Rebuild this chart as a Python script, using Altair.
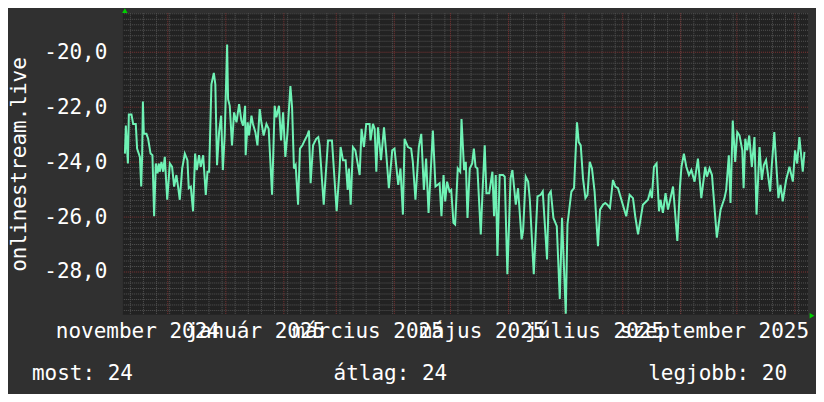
import altair as alt
import pandas as pd
import numpy as np

# ---------------- data ----------------
START = pd.Timestamp("2024-11-07T00:00:00")
END = pd.Timestamp("2025-11-08T00:00:00")

day_offset = [
    1.1, 1.6, 2.7, 3.2, 4.6, 5.5, 6.9, 7.6, 9.1, 9.8, 10.3, 10.7, 11.2, 12.6, 13.5, 14.8, 15.8, 16.7, 17.6, 18.5,
    19.2, 19.7, 20.6, 21.5, 22.4, 23.7, 25.1, 26.3, 27.4, 28.6, 29.5, 30.4, 31.7, 33.1, 34.5, 35.2, 36.3, 37.5, 38.6, 39.5,
    40.7, 41.6, 42.9, 44.3, 45.2, 46.1, 47.3, 48.6, 49.4, 50.3, 51.4, 52.5, 53.4, 54.4, 55.7, 56.2, 57.1, 58.3, 59.4, 60.7,
    62.1, 63.3, 64.2, 65.3, 65.6, 66.7, 67.4, 68.7, 69.5, 70.8, 71.9, 73.1, 74.0, 75.2, 76.7, 77.9, 79.7, 81.1, 82.0, 83.4,
    84.5, 85.6, 86.8, 87.9, 89.5, 90.4, 91.4, 92.3, 93.6, 94.6, 95.9, 97.1, 98.5, 99.4, 100.3, 101.6, 103.3, 104.4, 105.1, 107.3,
    109.6, 111.7, 114.2, 115.8, 116.3, 117.6, 119.0, 120.1, 120.8, 121.7, 122.9, 124.2, 126.5, 127.5, 128.8, 130.0, 131.8, 132.3, 133.6, 134.5,
    135.4, 136.3, 137.9, 139.5, 140.7, 142.1, 143.9, 145.1, 147.1, 148.3, 149.6, 150.5, 152.3, 154.0, 154.9, 156.3, 158.1, 159.4, 160.8, 162.0,
    163.3, 165.6, 167.0, 169.2, 170.2, 171.3, 172.2, 173.2, 174.5, 175.4, 176.6, 177.5, 178.9, 180.2,
    180.9, 182.3, 183.2, 184.1, 185.3, 186.6, 187.5, 188.4, 189.4, 191.2, 192.1, 193.3, 194.2, 195.7, 196.6, 197.4, 198.3, 199.2, 200.1, 201.3,
    203.1, 204.0, 205.4, 207.1, 208.1, 209.9, 211.1, 213.0, 213.8, 215.2, 216.5, 217.4, 219.5, 221.5, 223.2, 224.3, 226.6, 227.5, 228.6, 230.0,
    231.8, 233.4, 234.6, 236.6, 237.5, 239.6, 241.0, 242.6, 243.5, 244.6, 245.8, 247.1, 248.2, 249.4, 250.6, 252.0, 253.8, 254.9, 256.5, 257.7,
    258.8, 260.2, 261.8, 263.1, 264.5, 268.1, 268.9, 270.7, 272.5, 273.7, 275.2, 277.8, 280.5, 281.7, 282.6, 283.7, 285.1, 286.4, 287.2, 288.5,
    289.9, 291.2, 293.9, 296.2, 297.6, 298.4, 299.7, 301.0, 302.4, 303.7, 305.4, 307.2, 309.0, 311.1, 312.0, 313.4, 314.7, 317.3, 319.3, 321.4,
    322.3, 323.7, 324.6, 325.8, 327.1, 328.2, 329.4, 330.9, 331.6, 332.5, 333.5, 334.6, 336.0, 337.4, 338.5, 340.1, 341.3, 342.4, 343.6, 345.8,
    346.6, 348.0, 348.9, 350.2, 351.3, 352.5, 354.3, 356.1, 357.9, 359.1, 360.2, 361.4, 363.2, 364.1,
]

value = [
    -23.69, -22.67, -24.05, -22.27, -22.27, -22.61, -22.61, -23.51, -23.81, -24.89, -23.81, -21.79, -22.97, -22.97, -23.15, -23.69, -23.75, -25.97, -24.05, -24.41,
    -24.05, -24.35, -23.99, -24.35, -23.81, -25.37, -24.05, -24.17, -24.89, -24.47, -24.89, -25.37, -24.23, -23.69, -23.93, -24.95, -24.89, -25.79, -23.69, -24.29,
    -23.75, -24.17, -23.75, -25.19, -24.35, -24.35, -21.17, -20.75, -21.17, -24.11, -22.91, -22.31, -24.29, -23.03, -19.72, -21.71, -21.95, -23.39, -22.19, -22.55,
    -21.89, -22.49, -22.67, -21.95, -23.75, -22.55, -23.03, -22.31, -22.61, -22.91, -23.39, -22.07, -22.55, -23.03, -22.61, -22.79, -25.19, -21.95, -22.37, -21.95,
    -23.21, -22.19, -23.81, -22.97, -21.23, -22.01, -24.23, -24.11, -25.55, -23.51, -23.39, -23.21, -23.03, -22.85, -24.77, -23.39, -23.15, -23.09, -23.39, -25.55,
    -23.21, -23.21, -25.79, -24.23, -23.45, -23.93, -23.93, -25.01, -24.23, -25.55, -23.45, -23.57, -24.47, -22.79, -23.45, -22.61, -22.61, -23.21, -22.61, -22.79,
    -24.35, -22.73, -23.93, -22.73, -23.69, -24.95, -23.57, -23.51, -24.83, -24.23, -25.91, -23.15, -23.45, -23.51, -23.99, -25.37, -23.45, -22.97, -25.01, -23.87,
    -25.85, -22.85, -24.89, -24.77, -25.97, -24.47, -25.43, -24.71, -25.07, -25.01, -26.21, -26.27, -24.23, -24.35,
    -22.43, -24.29, -23.99, -26.03, -24.23, -24.05, -23.51, -24.17, -24.23, -26.63, -25.13, -23.39, -25.13, -25.13, -24.71, -24.35, -25.97, -24.47, -27.42, -24.47,
    -24.47, -24.53, -28.08, -24.59, -24.29, -25.55, -24.95, -26.81, -26.51, -24.53, -24.71, -25.37, -28.08, -25.25, -25.19, -25.07, -27.54, -25.19, -25.07, -26.03,
    -26.33, -28.98, -26.03, -29.52, -26.27, -25.07, -24.95, -22.55, -23.27, -23.39, -24.59, -25.31, -25.19, -23.99, -24.23, -25.07, -27.06, -25.73, -25.55, -25.49,
    -25.55, -25.67, -24.65, -24.89, -24.95, -25.79, -25.97, -25.19, -25.31, -25.97, -26.63, -25.55, -25.37, -25.07, -25.31, -24.17, -24.05, -25.79, -25.37, -25.85,
    -25.13, -25.73, -24.89, -26.87, -24.89, -24.17, -23.69, -24.17, -24.47, -24.29, -24.71, -23.87, -25.31, -24.17, -24.53, -24.23, -24.47, -26.75, -25.73, -25.31,
    -25.01, -23.75, -25.49, -22.49, -23.99, -22.91, -23.03, -23.57, -24.95, -23.15, -23.57, -23.03, -24.17, -23.09, -25.91, -23.45, -24.65, -24.11, -23.93, -25.07,
    -24.17, -22.91, -23.93, -25.31, -24.83, -25.43, -24.65, -24.17, -24.71, -23.57, -24.05, -23.09, -24.35, -23.63,
]

y_ticks = [-20, -22, -24, -26, -28]
y_domain = [-29.56, -18.58]

month_labels = ["november 2024", "január 2025", "március 2025", "május 2025", "július 2025", "szeptember 2025"]
month_label_dates = ["2024-11-15T00:00:00", "2025-01-17T00:00:00", "2025-03-18T00:00:00",
                     "2025-05-18T00:00:00", "2025-07-17T00:00:00", "2025-09-19T00:00:00"]

legend_labels = ["most", "átlag", "legjobb"]
legend_values = [24, 24, 20]
y_title = "onlinestream.live"

# ---------------- tables ----------------
fmt = "%Y-%m-%dT%H:%M:%S"
series = pd.DataFrame({
    "t": [(START + pd.Timedelta(days=d)).strftime(fmt) for d in day_offset],
    "v": value,
})
labels_df = pd.DataFrame({"t": month_label_dates, "label": month_labels})

weeks = pd.DataFrame({"t": [d.strftime(fmt) for d in pd.date_range(START, END, freq="W-MON")]})
months = pd.DataFrame({"t": [d.strftime(fmt) for d in pd.date_range(START, END, freq="MS")]})
minor_y = [round(v, 1) for v in np.arange(-29.4, -18.5, 0.2) if abs(round(v, 1) / 2 - round(round(v, 1) / 2)) > 1e-6]
hminor = pd.DataFrame({"y": minor_y})
hmajor = pd.DataFrame({"y": y_ticks})

FONT = "DejaVu Sans Mono"
FS = 21
W, H = 686, 302

xscale = alt.Scale(domain=[START.strftime(fmt), END.strftime(fmt)])
yscale = alt.Scale(domain=y_domain, nice=False, zero=False)

yaxis = alt.Axis(
    values=y_ticks,
    labelExpr="(datum.value < 0 ? '-' : '') + replace(format(abs(datum.value), '.1f'), '.', ',')",
    ticks=False, domain=False, grid=False,
    labelFont=FONT, labelFontSize=FS, labelColor="#ffffff", labelPadding=16,
    title=y_title, titleFont=FONT, titleFontSize=FS, titleFontWeight="normal", titleColor="#ffffff",
    titleAngle=270, titleX=-103, titleY=H / 2, titleAlign="center", titleBaseline="middle",
)

MINOR = "#545454"
MAJOR = "#7e3434"

v_minor = alt.Chart(weeks).mark_rule(color=MINOR, strokeWidth=1, strokeDash=[1, 1]).encode(
    x=alt.X("t:T", scale=xscale, axis=None))
h_minor = alt.Chart(hminor).mark_rule(color=MINOR, strokeWidth=1, strokeDash=[1, 1]).encode(
    y=alt.Y("y:Q", scale=yscale, axis=yaxis))
v_major = alt.Chart(months).mark_rule(color=MAJOR, strokeWidth=1, strokeDash=[1, 1]).encode(
    x=alt.X("t:T", scale=xscale, axis=None))
h_major = alt.Chart(hmajor).mark_rule(color=MAJOR, strokeWidth=1, strokeDash=[1, 1]).encode(
    y=alt.Y("y:Q", scale=yscale, axis=yaxis))

line = alt.Chart(series).mark_line(color="#6ff2b5", strokeWidth=2, clip=True).encode(
    x=alt.X("t:T", scale=xscale, axis=None),
    y=alt.Y("v:Q", scale=yscale, axis=yaxis),
)

xlabels = alt.Chart(labels_df).mark_text(font=FONT, fontSize=FS, color="#ffffff",
                                         align="center", baseline="middle").encode(
    x=alt.X("t:T", scale=xscale, axis=None),
    y=alt.value(H + 17),
    text="label:N",
)

legend_layers = []
legend_x = [-91, 211, 526]
for lab, val, lx in zip(legend_labels, legend_values, legend_x):
    df = pd.DataFrame({"txt": [f"{lab}: {val}"]})
    legend_layers.append(
        alt.Chart(df).mark_text(font=FONT, fontSize=FS, color="#ffffff", align="left", baseline="middle").encode(
            x=alt.value(lx), y=alt.value(H + 59), text="txt:N"))

arrow_df = pd.DataFrame({"a": [0]})
arrow_up = alt.Chart(arrow_df).mark_point(shape="triangle-up", filled=True, color="#00d000", size=30, opacity=1).encode(
    x=alt.value(2), y=alt.value(-2.5))
arrow_right = alt.Chart(arrow_df).mark_point(shape="triangle-right", filled=True, color="#00d000", size=30, opacity=1).encode(
    x=alt.value(W + 4), y=alt.value(H + 1))

chart = alt.layer(
    v_minor, h_minor, v_major, h_major, line, xlabels, *legend_layers, arrow_up, arrow_right
).properties(
    width=W, height=H,
    autosize=alt.AutoSizeParams(type="none"),
    padding={"left": 115, "top": 5, "right": 8, "bottom": 79},
    background="#303030",
).configure_view(fill="#222222", stroke=None)

chart.save("out.html", embed_options={"renderer": "svg", "actions": False})
